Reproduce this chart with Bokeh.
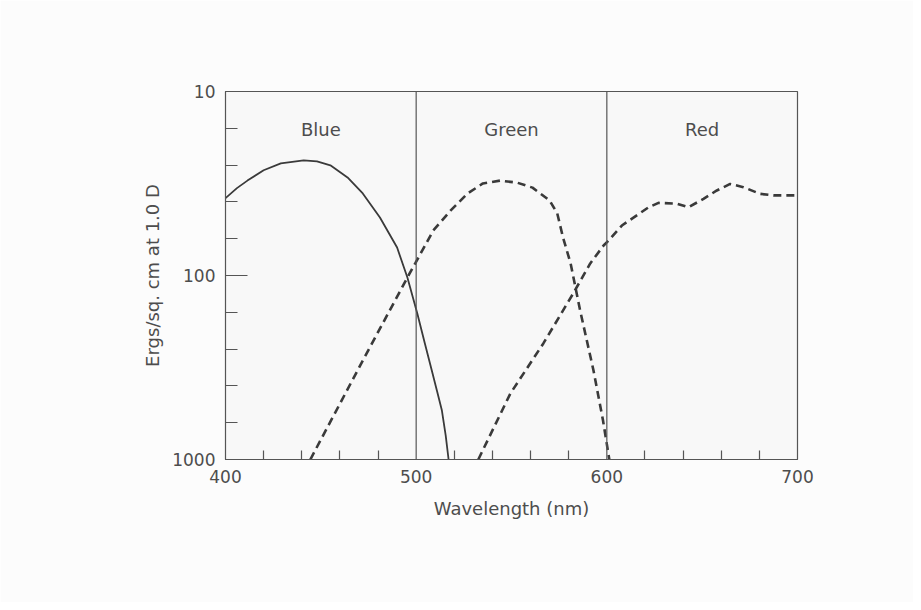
from bokeh.plotting import figure
from bokeh.models import Range1d, FixedTicker, Span
from bokeh.core.properties import value
from bokeh.embed import file_html
from bokeh.resources import INLINE

# ---- data ----
blue_wl = [400, 406, 411.5, 420, 429, 441, 448, 455, 464, 472, 481, 490, 495.4, 500.6, 504.5, 508.2, 511, 513.5, 515.5, 517]
blue_val = [38, 33.5, 30.5, 26.8, 24.6, 23.7, 24.0, 25.2, 29.3, 35.8, 48.4, 70.5, 102.6, 161, 233, 328, 427, 542, 741, 1000]

green_wl = [444.5, 472, 495.4, 499.5, 509, 518, 527, 535, 544, 553, 561, 570, 574, 577, 581, 586, 593, 598, 601.3]
green_val = [1000, 290, 102.6, 86, 56.9, 44.4, 35.8, 31.6, 30.5, 31.3, 33.3, 39.1, 46, 62, 86, 155, 328, 614, 1000]

red_wl = [532.6, 549.4, 566.7, 582.4, 591.3, 598.3, 600.9, 607.9, 621.9, 627.1, 636.7, 642.8, 650.7, 657.7, 664.7, 671.6, 680.4, 687.4, 700]
red_val = [1000, 438, 234, 125, 86, 68.7, 64.6, 53.5, 42.6, 40.3, 40.7, 42.6, 38.3, 34.5, 31.8, 33.1, 36.0, 36.7, 36.7]

band_names = ["Blue", "Green", "Red"]
band_centers = [450, 550, 650]
band_label_y = [16, 16, 16]
boundaries = [500, 600]

x_major = [400, 500, 600, 700]
x_minor = [420, 440, 460, 480, 520, 540, 560, 580, 620, 640, 660, 680]
y_major = [10, 100, 1000]
y_minor = [15.85, 25.12, 39.81, 63.1, 158.5, 251.2, 398.1, 631]

INK = "#3a3a3a"
FRAME = "#555555"
TEXT = "#4d4d4d"
FONT = "DejaVu Sans"

p = figure(width=913, height=602, output_backend="svg", toolbar_location=None,
           y_axis_type="log",
           x_range=Range1d(400, 700), y_range=Range1d(1000, 10),
           min_border_left=225, min_border_right=116,
           min_border_top=91, min_border_bottom=143)

p.background_fill_color = "#f8f8f8"
p.border_fill_color = "#fcfcfc"
p.outline_line_color = FRAME
p.outline_line_width = 1.2
p.grid.visible = False
# faint outer frame of the page, drawn just inside the figure's edges
p.styles = {"outline": "1px solid #b4b4b4", "outline-offset": "-5px"}

# x axis
xa = p.xaxis[0]
xa.ticker = FixedTicker(ticks=x_major, minor_ticks=x_minor)
xa.axis_line_color = FRAME
xa.major_tick_in = 0
xa.major_tick_out = 0
xa.minor_tick_in = 9
xa.minor_tick_out = 0
xa.minor_tick_line_color = FRAME
xa.minor_tick_line_width = 1.2
xa.major_label_standoff = 10
xa.major_label_text_font = FONT
xa.major_label_text_font_size = "17px"
xa.major_label_text_color = TEXT
xa.axis_label = "Wavelength (nm)"
xa.axis_label_text_font = FONT
xa.axis_label_text_font_size = "18px"
xa.axis_label_text_font_style = "normal"
xa.axis_label_text_color = TEXT
xa.axis_label_standoff = 12

# y axis
ya = p.yaxis[0]
ya.ticker = FixedTicker(ticks=y_major, minor_ticks=y_minor)
ya.axis_line_color = FRAME
ya.major_tick_in = 22
ya.major_tick_out = 0
ya.major_tick_line_color = FRAME
ya.major_tick_line_width = 1.2
ya.minor_tick_in = 12
ya.minor_tick_out = 0
ya.minor_tick_line_color = FRAME
ya.minor_tick_line_width = 1.2
ya.major_label_overrides = {10: "10", 100: "100", 1000: "1000"}
ya.major_label_standoff = 10
ya.major_label_text_font = FONT
ya.major_label_text_font_size = "17px"
ya.major_label_text_color = TEXT
ya.axis_label = "Ergs/sq. cm at 1.0 D"
ya.axis_label_text_font = FONT
ya.axis_label_text_font_size = "18px"
ya.axis_label_text_font_style = "normal"
ya.axis_label_text_color = TEXT
ya.axis_label_standoff = 6

# band dividers
for b in boundaries:
    p.add_layout(Span(location=b, dimension="height", line_color=FRAME, line_width=1.2))

# curves
p.line(blue_wl, blue_val, line_color=INK, line_width=1.8)
p.line(green_wl, green_val, line_color=INK, line_width=2.6, line_dash="8 5")
p.line(red_wl, red_val, line_color=INK, line_width=2.6, line_dash="8 5")

# band names
p.text(x=band_centers, y=band_label_y, text=band_names,
       text_font=value(FONT), text_font_size="18px", text_color=TEXT,
       text_align="center", text_baseline="middle")

open("out.html", "w").write(file_html(p, INLINE))
